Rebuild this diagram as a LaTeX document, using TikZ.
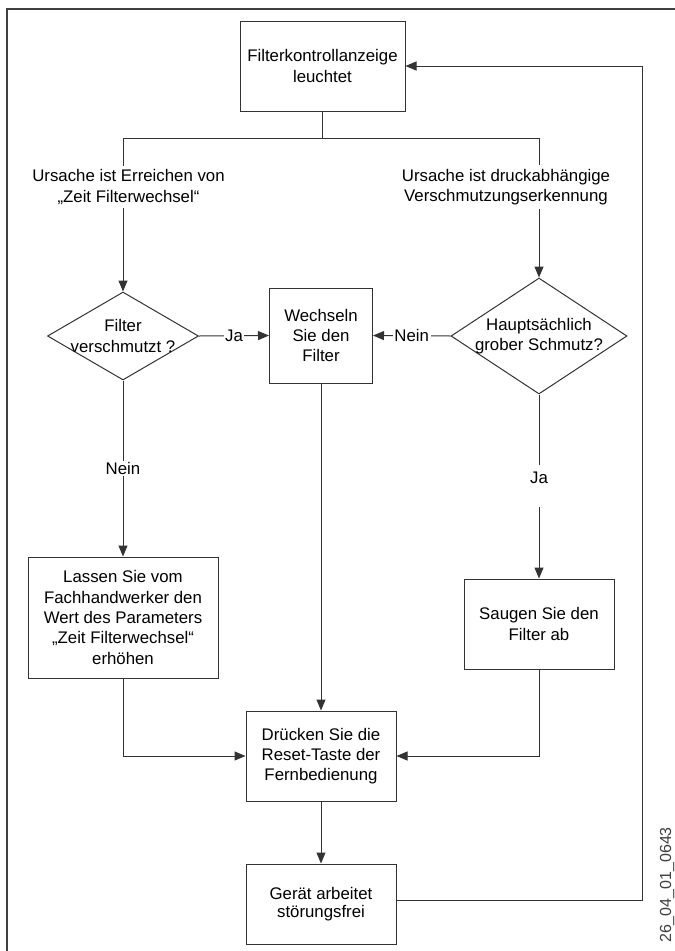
\documentclass[tikz,border=0pt]{standalone}
\usepackage{fontspec}
\setmainfont{Liberation Sans}
\usetikzlibrary{shapes.geometric,arrows.meta,calc}
\begin{document}
\begin{tikzpicture}[x={(1pt,0)},y={(0,-1pt)},
  every node/.style={font=\fontsize{16.8}{20.3}\selectfont, align=center, text=black},
  box/.style={draw=black!80, line width=1pt, rectangle, inner sep=0pt, fill=white},
  dia/.style={draw=black!80, line width=1pt, diamond, inner sep=0pt, fill=white},
  conn/.style={draw=black!80, line width=1pt},
  arr/.style={conn, -{Triangle[length=11pt,width=9pt]}},
  lbl/.style={fill=white, inner sep=1.5pt},
  cause/.style={fill=white, inner sep=4pt}
]
\useasboundingbox (0,0) rectangle (675,951);
\fill[white] (0,0) rectangle (675,951);
% frame
\draw[line width=2pt, black!75] (6.5,951) -- (6.5,9.3) -- (675,9.3);

% nodes
\node[box, minimum width=165pt, minimum height=90pt] (b1) at (322.5,66) {Filterkontrollanzeige\\leuchtet};
\node[dia, minimum width=151pt, minimum height=88pt,
      label={[align=center]center:Filter\\verschmutzt ?}] (dL) at (123,336) {};
\node[box, minimum width=103pt, minimum height=95pt] (bW) at (321,335.5) {Wechseln\\Sie den\\Filter};
\node[dia, minimum width=176pt, minimum height=116pt,
      label={[align=center]center:Hauptsächlich\\grober Schmutz?}] (dR) at (539,336) {};
\node[box, minimum width=190pt, minimum height=121pt] (bL) at (123,617.5) {Lassen Sie vom\\Fachhandwerker den\\Wert des Parameters\\„Zeit Filterwechsel“\\erhöhen};
\node[box, minimum width=150pt, minimum height=90pt] (bS) at (539,624) {Saugen Sie den\\Filter ab};
\node[box, minimum width=150pt, minimum height=90pt] (bD) at (321,756) {Drücken Sie die\\Reset-Taste der\\Fernbedienung};
\node[box, minimum width=150pt, minimum height=80pt] (bG) at (321,904) {\raisebox{-5pt}{\shortstack{Gerät arbeitet\\[2pt]störungsfrei}}};

% connectors
\coordinate (j) at (322.5,138);
\coordinate (fbc) at (642,66);
\draw[conn] (b1.south) -- (j);
\draw[arr] (j) -| (dL.north);
\draw[arr] (j) -| (dR.north);
\node[cause] (cL) at (128.5,187) {Ursache ist Erreichen von\\„Zeit Filterwechsel“};
\node[cause] (cR) at (506,187) {Ursache ist druckabhängige\\Verschmutzungserkennung};

\draw[arr] (dL.east) -- node[lbl] (ja1) {Ja} (bW.west);
\draw[arr] (dR.west) -- node[lbl] (nein1) {Nein} (bW.east);
\draw[arr] (dL.south) -- node[lbl] (nein2) {Nein} (bL.north);
\draw[arr] (dR.south) -- (bS.north);
\node[fill=white, inner sep=0pt, text height=18pt, text depth=24pt, anchor=base] (ja2) at (539,483) {Ja};
\draw[arr] (bW.south) -- (bD.north);
\draw[arr] (bL.south) |- (bD.west);
\draw[arr] (bS.south) |- (bD.east);
\draw[arr] (bD.south) -- (bG.north);
\draw[arr] ([yshift=4pt]bG.east) -| (fbc) -- (b1.east);

% figure id
\node[rotate=90, text=black!75, font=\fontsize{16}{18}\selectfont] (fid) at (667,885) {26\_04\_01\_0643};
\end{tikzpicture}
\end{document}
